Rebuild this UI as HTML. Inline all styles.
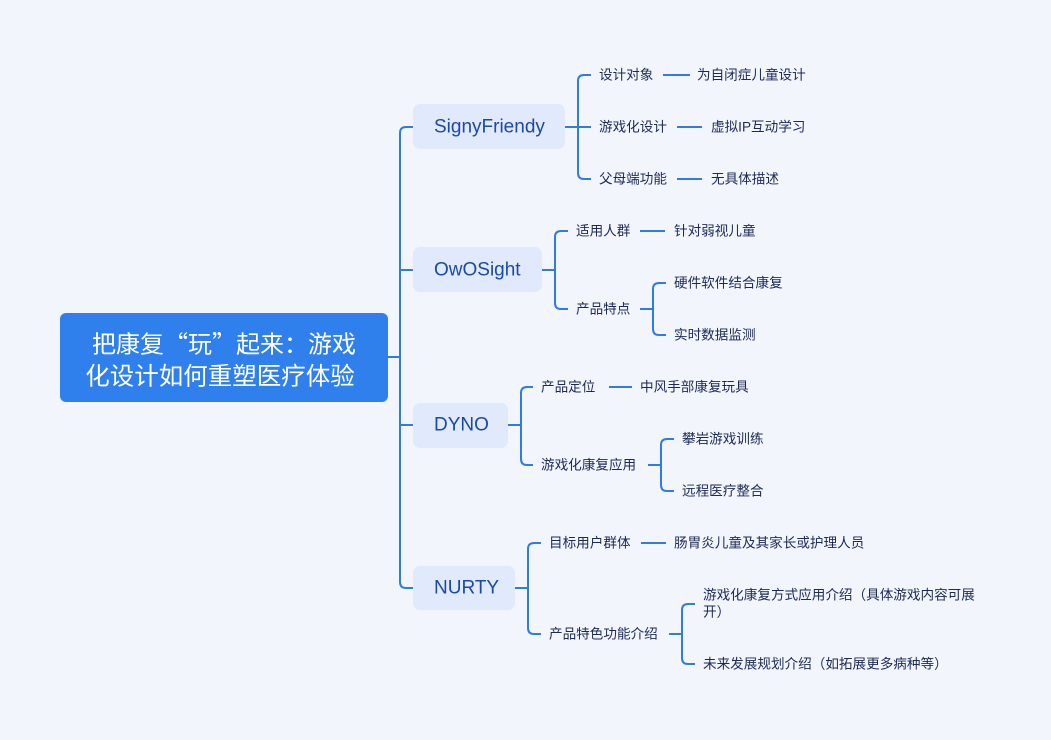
<!DOCTYPE html>
<html><head><meta charset="utf-8"><style>
html,body{margin:0;padding:0;background:#f3f5fd;}
svg{display:block;}
text{font-family:"Liberation Sans","Noto Sans CJK SC",sans-serif;}
.l{font-size:13.6px;fill:#1c2a55;dominant-baseline:central;}
.b{font-size:19px;fill:#1a4aa6;dominant-baseline:central;}
path,line{stroke:#2f7de1;stroke-width:2;fill:none;}
</style></head><body>
<svg width="1051" height="740" viewBox="0 0 1051 740">
<rect width="1051" height="740" fill="#f3f5fd" style="stroke:none"/>
<rect x="60" y="313" width="328" height="89" rx="6" fill="#2f80ed" style="stroke:none"/>
<text x="224" y="342" font-size="24" fill="#fff" text-anchor="middle" dominant-baseline="central" style="font-family:'Noto Sans CJK SC',sans-serif">把康复“玩”起来：游戏</text>
<text x="220" y="375" font-size="24.5" fill="#fff" text-anchor="middle" dominant-baseline="central" style="font-family:'Noto Sans CJK SC',sans-serif">化设计如何重塑医疗体验</text>
<line x1="388" y1="357" x2="400" y2="357"/>
<path d="M413 127 H406 Q400 127 400 133 V582 Q400 588 406 588 H413"/>
<path d="M400 270 H413"/>
<path d="M400 425 H413"/>
<rect x="413" y="104" width="152" height="45" rx="7" fill="#e1e9fc" style="stroke:none"/>
<text class="b" x="434" y="127">SignyFriendy</text>
<rect x="413" y="247" width="129" height="45" rx="7" fill="#e1e9fc" style="stroke:none"/>
<text class="b" x="434" y="270">OwOSight</text>
<rect x="413" y="403" width="95" height="45" rx="7" fill="#e1e9fc" style="stroke:none"/>
<text class="b" x="434" y="425">DYNO</text>
<rect x="413" y="566" width="102" height="44" rx="7" fill="#e1e9fc" style="stroke:none"/>
<text class="b" x="434" y="588">NURTY</text>
<!-- SignyFriendy -->
<line x1="565" y1="127" x2="591" y2="127"/>
<path d="M591 75 H584 Q578 75 578 81 V173 Q578 179 584 179 H591"/>
<text class="l" x="599" y="75">设计对象</text>
<text class="l" x="599" y="127">游戏化设计</text>
<text class="l" x="599" y="179">父母端功能</text>
<line x1="663" y1="75" x2="690" y2="75"/><text class="l" x="697" y="75">为自闭症儿童设计</text>
<line x1="677" y1="127" x2="702" y2="127"/><text class="l" x="711" y="127">虚拟IP互动学习</text>
<line x1="677" y1="179" x2="702" y2="179"/><text class="l" x="711" y="179">无具体描述</text>
<!-- OwOSight -->
<line x1="542" y1="270" x2="555" y2="270"/>
<path d="M568 231 H561 Q555 231 555 237 V303 Q555 309 561 309 H568"/>
<text class="l" x="576" y="231">适用人群</text>
<text class="l" x="576" y="309">产品特点</text>
<line x1="640" y1="231" x2="665" y2="231"/><text class="l" x="674" y="231">针对弱视儿童</text>
<line x1="640" y1="309" x2="653" y2="309"/>
<path d="M666 283 H659 Q653 283 653 289 V329 Q653 335 659 335 H666"/>
<text class="l" x="674" y="283">硬件软件结合康复</text>
<text class="l" x="674" y="335">实时数据监测</text>
<!-- DYNO -->
<line x1="508" y1="425" x2="521" y2="425"/>
<path d="M533 387 H527 Q521 387 521 393 V459 Q521 465 527 465 H533"/>
<text class="l" x="541" y="387">产品定位</text>
<text class="l" x="541" y="465">游戏化康复应用</text>
<line x1="609" y1="387" x2="632" y2="387"/><text class="l" x="640" y="387">中风手部康复玩具</text>
<line x1="648" y1="465" x2="661" y2="465"/>
<path d="M674 439 H667 Q661 439 661 445 V485 Q661 491 667 491 H674"/>
<text class="l" x="682" y="439">攀岩游戏训练</text>
<text class="l" x="682" y="491">远程医疗整合</text>
<!-- NURTY -->
<line x1="515" y1="588" x2="528" y2="588"/>
<path d="M541 543 H534 Q528 543 528 549 V628 Q528 634 534 634 H541"/>
<text class="l" x="549" y="543">目标用户群体</text>
<text class="l" x="549" y="634">产品特色功能介绍</text>
<line x1="641" y1="543" x2="666" y2="543"/><text class="l" x="674" y="543">肠胃炎儿童及其家长或护理人员</text>
<line x1="669" y1="634" x2="682" y2="634"/>
<path d="M695 604 H688 Q682 604 682 610 V658 Q682 664 688 664 H695"/>
<text class="l" x="703" y="595">游戏化康复方式应用介绍（具体游戏内容可展</text>
<text class="l" x="703" y="612">开）</text>
<text class="l" x="703" y="664">未来发展规划介绍（如拓展更多病种等）</text>
</svg>
</body></html>
